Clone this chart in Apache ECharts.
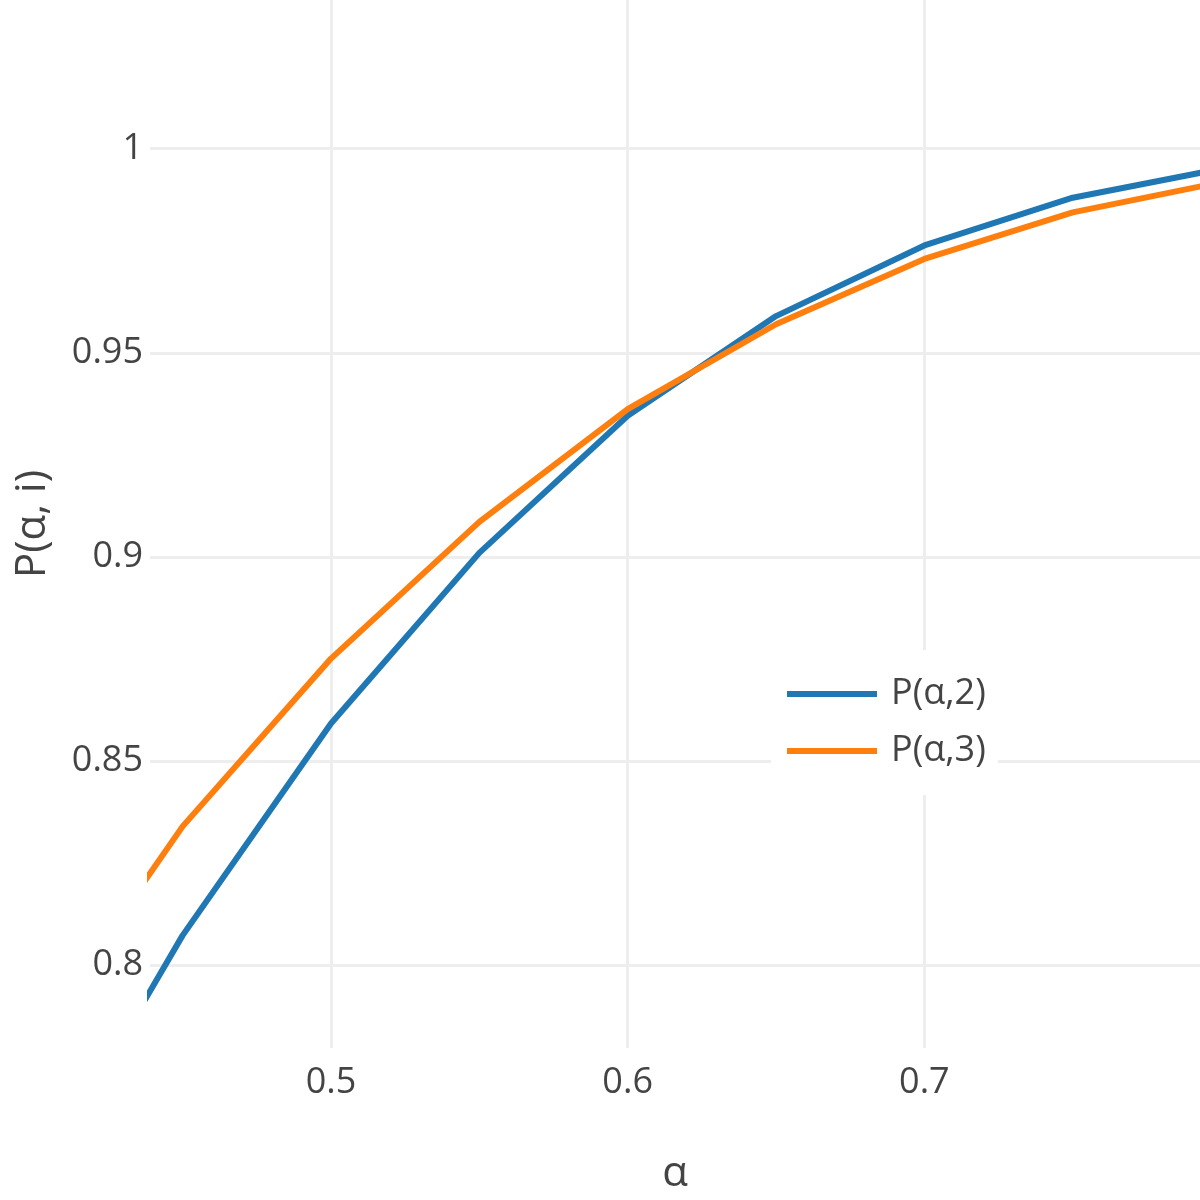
<!DOCTYPE html>
<html>
<head>
<meta charset="utf-8">
<script src="https://cdn.jsdelivr.net/npm/echarts@6/dist/echarts.min.js"></script>
<style>html,body{margin:0;padding:0;background:#fff}#c{width:1200px;height:1200px}</style>
</head>
<body>
<div id="c"></div>
<script>
const alphaValues = [0.40, 0.45, 0.50, 0.55, 0.60, 0.65, 0.70, 0.75, 0.80];
const p2Values = [0.7451, 0.8073, 0.8592, 0.9010, 0.9346, 0.9590, 0.9763, 0.9880, 0.9951];
const p3Values = [0.7817, 0.8340, 0.8751, 0.9086, 0.9362, 0.9570, 0.9730, 0.9844, 0.9918];
const xTicks = [0.5, 0.6, 0.7];
const yTicks = [0.8, 0.85, 0.9, 0.95, 1];
const seriesNames = ['P(α,2)', 'P(α,3)'];

const font = "'Open Sans', 'DejaVu Sans', sans-serif";
const chart = echarts.init(document.getElementById('c'), null, {renderer: 'canvas'});
chart.setOption({
  backgroundColor: '#fff',
  animation: false,
  grid: {left: 150, right: 0, top: 0, bottom: 150, containLabel: false},
  xAxis: {
    type: 'value', min: 0.439, max: 0.7929,
    name: 'α', nameLocation: 'middle', nameGap: 105,
    nameTextStyle: {fontFamily: font, fontSize: 42, color: '#444'},
    axisLine: {show: false},
    axisTick: {show: false, customValues: xTicks},
    axisLabel: {customValues: xTicks, fontFamily: font, fontSize: 36, color: '#444', margin: 17},
    splitLine: {show: true, lineStyle: {color: '#eee', width: 3}}
  },
  yAxis: {
    type: 'value', min: 0.77971, max: 1.03643,
    name: 'P(α, i)', nameLocation: 'middle', nameGap: 96, nameRotate: 90,
    nameTextStyle: {fontFamily: font, fontSize: 42, color: '#444'},
    axisLine: {show: false},
    axisTick: {show: false, customValues: yTicks},
    axisLabel: {customValues: yTicks, fontFamily: font, fontSize: 36, color: '#444', margin: 7},
    splitLine: {show: true, lineStyle: {color: '#eee', width: 3}}
  },
  legend: {
    data: seriesNames,
    orient: 'vertical',
    left: 771, top: 650,
    backgroundColor: '#fff',
    padding: [21, 12, 21, 16],
    icon: 'rect', itemWidth: 90, itemHeight: 6, itemGap: 11,
    textStyle: {fontFamily: font, fontSize: 36, color: '#444', lineHeight: 40, padding: [6, 0, 0, 9]}
  },
  series: [
    {name: seriesNames[0], type: 'line', symbol: 'none', color: '#1f77b4',
     lineStyle: {width: 6, color: '#1f77b4'},
     data: alphaValues.map((a, i) => [a, p2Values[i]])},
    {name: seriesNames[1], type: 'line', symbol: 'none', color: '#ff7f0e',
     lineStyle: {width: 6, color: '#ff7f0e'},
     data: alphaValues.map((a, i) => [a, p3Values[i]])}
  ]
});
</script>
</body>
</html>
